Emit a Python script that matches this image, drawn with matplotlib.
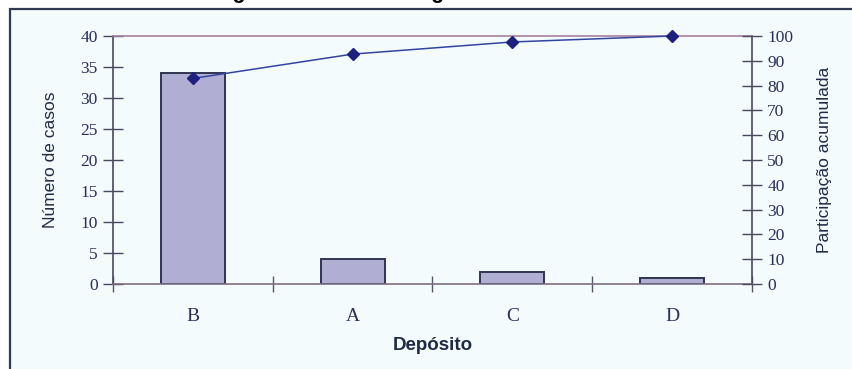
import numpy as np
import matplotlib.pyplot as plt
from matplotlib.patches import Rectangle

depositos = ['B', 'A', 'C', 'D']
casos = [34, 4, 2, 1]
acumulada = [82.9, 92.7, 97.6, 100.0]

W, H = 853, 369
fig = plt.figure(figsize=(W / 100, H / 100), dpi=100, facecolor='white')

# moldura do quadro (so as bordas esquerda e superior aparecem)
fig.patches.append(Rectangle((10 / W, -0.2), 1.2, 1.2 - 9 / H,
                             transform=fig.transFigure, facecolor='#F3FBFD',
                             edgecolor='#2E3B50', linewidth=1.6, zorder=-10))

# titulo, quase todo fora da area da figura
fig.text(199 / W, 1 + 2 / H, 'Diagrama de Pareto segundo', fontsize=15.5,
         fontweight='bold', family='Liberation Sans', color='black', va='baseline')

ax = fig.add_axes([113 / W, 1 - 284 / H, (752 - 113) / W, (284 - 36) / H])
ax.patch.set_alpha(0)

x = np.arange(len(depositos))
ax.bar(x, casos, width=0.4, color='#B0AED3', edgecolor='#2F3550', linewidth=1.4, zorder=2)

ax.set_xlim(-0.5, 3.5)
ax.set_ylim(0, 40)
ax.set_yticks(range(0, 41, 5))

tick_color = '#2A2F5A'
ax.set_xticks(x)
ax.set_xticklabels(depositos, family='Liberation Serif', fontsize=14, color=tick_color)
ax.set_xticks(np.arange(-0.5, 3.6, 1), minor=True)
ax.tick_params(axis='x', which='major', length=0, pad=17)
ax.tick_params(axis='x', which='minor', direction='inout', length=12, color='#5A5468', width=1)
ax.tick_params(axis='y', direction='inout', length=14, color='#4A4860', width=1,
               labelsize=12.5, labelcolor=tick_color, pad=4)
for lab in ax.get_yticklabels():
    lab.set_family('Liberation Serif')

ax.spines['left'].set_color('#4A4860')
ax.spines['right'].set_color('#4A4860')
ax.spines['top'].set_color('#A8809F')
ax.spines['bottom'].set_color('#7A6E84')
for s in ax.spines.values():
    s.set_linewidth(1.2)

ax.set_ylabel('Número de casos', family='Liberation Sans', fontsize=12.5, color='#1F2A44', labelpad=16)
ax.set_xlabel('Depósito', family='Liberation Sans', fontsize=13.5, fontweight='bold',
              color='#1F2A44', labelpad=9)

ax2 = ax.twinx()
ax2.set_ylim(0, 100)
ax2.set_yticks(range(0, 101, 10))
ax2.plot(x, acumulada, color='#3344A0', linewidth=1.1, marker='D', markersize=6,
         markerfacecolor='#1E2080', markeredgecolor='#1E2080', zorder=3, clip_on=False)
ax2.tick_params(axis='y', direction='inout', length=14, color='#4A4860', width=1,
                labelsize=12.5, labelcolor=tick_color, pad=4)
for lab in ax2.get_yticklabels():
    lab.set_family('Liberation Serif')
for s in ax2.spines.values():
    s.set_visible(False)
ax2.set_ylabel('Participação acumulada', family='Liberation Sans', fontsize=12.5,
               color='#1F2A44', labelpad=17)

fig.savefig('out.png', dpi=100, facecolor=fig.get_facecolor())
